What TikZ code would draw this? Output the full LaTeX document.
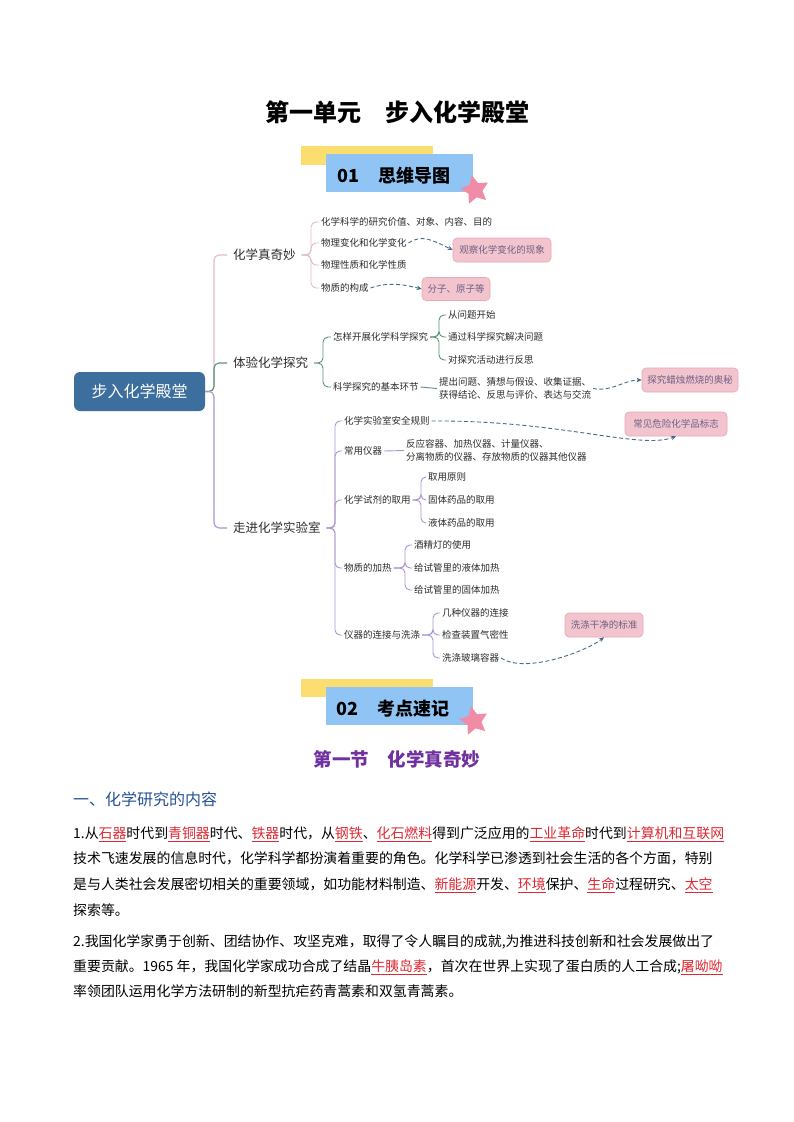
\documentclass[tikz,border=0pt]{standalone}
\usepackage{fontspec}
\setmainfont{Noto Sans CJK SC}
\usetikzlibrary{shapes.geometric,arrows.meta}

% colours
\definecolor{rootblue}{RGB}{60,110,158}
\definecolor{pinkbr}{RGB}{226,186,198}
\definecolor{greenbr}{RGB}{88,148,118}
\definecolor{purplebr}{RGB}{172,150,206}
\definecolor{notefill}{RGB}{242,196,205}
\definecolor{notedraw}{RGB}{232,168,184}
\definecolor{notetext}{RGB}{112,96,132}
\definecolor{arrowblue}{RGB}{70,108,140}
\definecolor{mmtext}{RGB}{45,45,45}
\definecolor{bannery}{RGB}{252,222,112}
\definecolor{bannerb}{RGB}{143,196,245}
\definecolor{starpink}{RGB}{240,140,165}
\definecolor{secpurple}{RGB}{112,48,160}
\definecolor{headblue}{RGB}{40,82,150}
\definecolor{kwred}{RGB}{222,40,50}

\newcommand{\keyw}[1]{\textcolor{kwred}{\underline{#1}}}

\tikzset{
  root/.style={rounded corners=6pt, fill=rootblue, text=white, minimum width=131pt,
    minimum height=39pt, font=\fontsize{16}{18}\selectfont},
  lvA/.style={anchor=west, font=\fontsize{12.5}{14}\selectfont, text=mmtext,
    inner sep=1pt, outer sep=5pt},
  lvB/.style={anchor=west, font=\fontsize{9.5}{13}\selectfont, text=mmtext,
    inner sep=1pt, outer sep=1pt, align=left},
  note/.style={rounded corners=4pt, fill=notefill, draw=notedraw, line width=0.6pt,
    text=notetext, font=\fontsize{9.5}{11}\selectfont, minimum height=24pt, inner sep=2pt},
  brpink/.style={draw=pinkbr, line width=1.1pt, rounded corners=5pt},
  brgreen/.style={draw=greenbr, line width=1.1pt, rounded corners=5pt},
  brpurple/.style={draw=purplebr, line width=1.1pt, rounded corners=5pt},
  noteline/.style={draw=arrowblue, line width=0.9pt, dash pattern=on 4pt off 2.5pt,
    -{Stealth[length=5pt,width=4.5pt]}},
  bannertext/.style={anchor=west, font=\fontsize{18}{20}\selectfont\bfseries, inner sep=0pt},
  starmark/.style={star, star points=5, star point ratio=2, fill=starpink,
    minimum size=30pt, inner sep=0pt, rotate=12},
  bodyline/.style={anchor=west, font=\fontsize{13.9}{16}\selectfont, inner sep=0pt,
    text height=12.2pt, text depth=1.7pt}
}

\begin{document}
\begin{tikzpicture}[x=1pt,y=-1pt]

% page
\fill[white] (0,0) rectangle (794,1122);
\useasboundingbox (0,0) rectangle (794,1122);

% title
\node[font=\fontsize{24}{26}\selectfont\bfseries] (title) at (397,112) {第一单元\hspace{1em}步入化学殿堂};

% banner 01
\fill[bannery] (301,146) rectangle (433,165);
\fill[bannerb] (326,154) rectangle (473,192);
\node[bannertext] (ban1) at (337,176) {01\hspace{1.1em}思维导图};
\node[starmark] (star1) at (475,190) {};

% root
\node[root] (root) at (139.5,391.5) {步入化学殿堂};

% first level
\node[lvA] (wq) at (227,255) {化学真奇妙};
\node[lvA] (ty) at (227,363) {体验化学探究};
\node[lvA] (zj) at (227,528) {走进化学实验室};

\coordinate (rootB) at (214,391.5);
\draw[brpink] (root.east) -- (rootB) |- (wq.west);
\draw[brgreen] (root.east) -- (rootB) |- (ty.west);
\draw[brpurple] (root.east) -- (rootB) |- (zj.west);

% wonder of chemistry
\node[lvB] (a1) at (319,222) {化学科学的研究价值、对象、内容、目的};
\node[lvB] (a2) at (319,243) {物理变化和化学变化};
\node[lvB] (a3) at (319,265) {物理性质和化学性质};
\node[lvB] (a4) at (319,288) {物质的构成};

\coordinate (wqB) at (311,255);
\foreach \n in {a1,a2,a3,a4}
  \draw[brpink,line width=0.9pt] (wq.east) -- (wqB) |- (\n.west);

\node[note,minimum width=98pt] (c1) at (502,250) {观察化学变化的现象};
\node[note,minimum width=68pt,minimum height=23pt] (c2) at (456,289) {分子、原子等};
\draw[noteline] (a2.east) .. controls (422,234) and (432,240) .. (c1.west);
\draw[noteline] (a4.east) .. controls (388,282) and (402,284) .. (c2.west);

% scientific inquiry
\node[lvB] (b1) at (331,337) {怎样开展化学科学探究};
\node[lvB] (b2) at (331,387) {科学探究的基本环节};

\coordinate (tyB) at (323,363);
\foreach \n in {b1,b2}
  \draw[brgreen,line width=0.9pt] (ty.east) -- (tyB) |- (\n.west);

\node[lvB] (g11) at (446,315) {从问题开始};
\node[lvB] (g12) at (446,337) {通过科学探究解决问题};
\node[lvB] (g13) at (446,360) {对探究活动进行反思};

\coordinate (b1B) at (439,337);
\foreach \n in {g11,g12,g13}
  \draw[brgreen,line width=0.9pt] (b1.east) -- (b1B) |- (\n.west);

\node[lvB] (b2x) at (437,388.5) {提出问题、猜想与假设、收集证据、\\获得结论、反思与评价、表达与交流};
\draw[brgreen,line width=0.9pt] (b2.east) -- (b2x.west);

\node[note,minimum width=96pt] (c3) at (690,380) {探究蜡烛燃烧的奥秘};
\draw[noteline] (b2x.east) .. controls (612,392) and (624,380) .. (c3.west);

% laboratory
\node[lvB] (d1) at (342,421) {化学实验室安全规则};
\node[lvB] (d2) at (342,451) {常用仪器};
\node[lvB] (d3) at (342,500) {化学试剂的取用};
\node[lvB] (d4) at (342,568) {物质的加热};
\node[lvB] (d5) at (342,635) {仪器的连接与洗涤};

\coordinate (zjB) at (335,528);
\foreach \n in {d1,d2,d3,d4,d5}
  \draw[brpurple,line width=0.9pt] (zj.east) -- (zjB) |- (\n.west);

\node[lvB] (d2x) at (404,450.5) {反应容器、加热仪器、计量仪器、\\分离物质的仪器、存放物质的仪器其他仪器};
\draw[brpurple,line width=0.9pt] (d2.east) -- (d2x.west);

\node[lvB] (g31) at (426,477) {取用原则};
\node[lvB] (g32) at (426,500) {固体药品的取用};
\node[lvB] (g33) at (426,523) {液体药品的取用};
\coordinate (d3B) at (421,500);
\foreach \n in {g31,g32,g33}
  \draw[brpurple,line width=0.9pt] (d3.east) -- (d3B) |- (\n.west);

\node[lvB] (g41) at (412,545) {酒精灯的使用};
\node[lvB] (g42) at (412,568) {给试管里的液体加热};
\node[lvB] (g43) at (412,590) {给试管里的固体加热};
\coordinate (d4B) at (405,568);
\foreach \n in {g41,g42,g43}
  \draw[brpurple,line width=0.9pt] (d4.east) -- (d4B) |- (\n.west);

\node[lvB] (g51) at (440,613) {几种仪器的连接};
\node[lvB] (g52) at (440,635) {检查装置气密性};
\node[lvB] (g53) at (440,658) {洗涤玻璃容器};
\coordinate (d5B) at (433,635);
\foreach \n in {g51,g52,g53}
  \draw[brpurple,line width=0.9pt] (d5.east) -- (d5B) |- (\n.west);

\node[note,minimum width=102pt] (c4) at (676,424) {常见危险化学品标志};
\node[note,minimum width=78pt] (c5) at (604,625) {洗涤干净的标准};
\draw[noteline] (d1.east) .. controls (560,420) and (640,450) .. (c4.south);
\draw[noteline] (g53.east) .. controls (525,674) and (585,652) .. (c5.south);

% banner 02
\fill[bannery] (301,679) rectangle (433,697);
\fill[bannerb] (326,687) rectangle (473,725);
\node[bannertext] (ban2) at (336,709) {02\hspace{1.1em}考点速记};
\node[starmark] (star2) at (474,721) {};

% section title
\node[font=\fontsize{18.5}{20}\selectfont\bfseries, text=secpurple] (sec) at (397,759) {第一节\hspace{1em}化学真奇妙};

% heading
\node[anchor=west, font=\fontsize{16}{18}\selectfont, text=headblue, inner sep=0pt] (head) at (73,799) {一、化学研究的内容};

% body text
\node[bodyline] (p1) at (73,833) {1.从\keyw{石器}时代到\keyw{青铜器}时代、\keyw{铁器}时代，从\keyw{钢铁}、\keyw{化石燃料}得到广泛应用的\keyw{工业革命}时代到\keyw{计算机和互联网}};
\node[bodyline] (p2) at (73,858) {技术飞速发展的信息时代，化学科学都扮演着重要的角色。化学科学已渗透到社会生活的各个方面，特别};
\node[bodyline] (p3) at (73,884) {是与人类社会发展密切相关的重要领域，如功能材料制造、\keyw{新能源}开发、\keyw{环境}保护、\keyw{生命}过程研究、\keyw{太空}};
\node[bodyline] (p4) at (73,910) {探索等。};
\node[bodyline] (p5) at (73,941) {2.我国化学家勇于创新、团结协作、攻坚克难，取得了令人瞩目的成就,为推进科技创新和社会发展做出了};
\node[bodyline] (p6) at (73,966) {重要贡献。1965 年，我国化学家成功合成了结晶\keyw{牛胰岛素}，首次在世界上实现了蛋白质的人工合成;\keyw{屠呦呦}};
\node[bodyline] (p7) at (73,991) {率领团队运用化学方法研制的新型抗疟药青蒿素和双氢青蒿素。};

\end{tikzpicture}
\end{document}
